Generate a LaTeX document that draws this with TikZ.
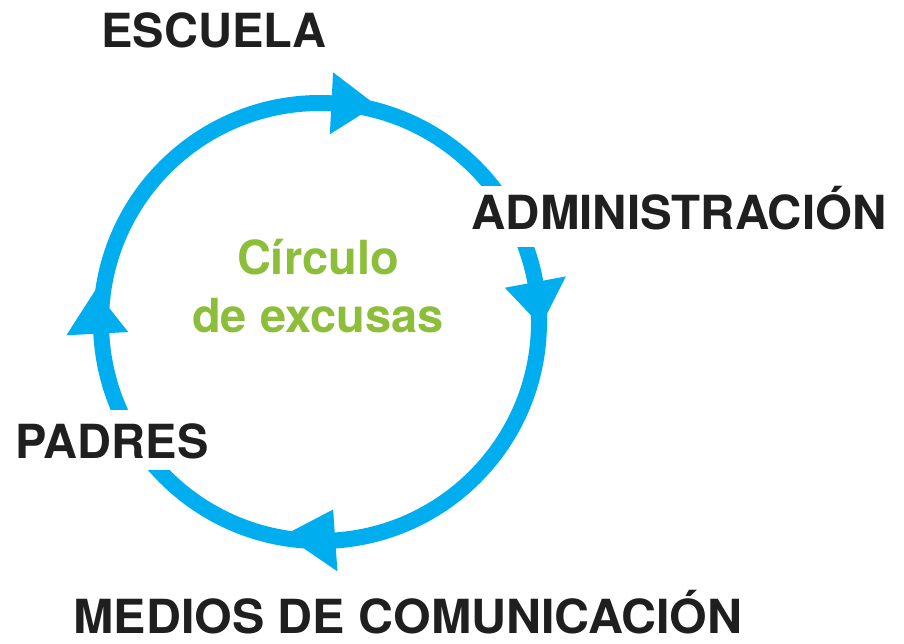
\documentclass[tikz,border=0pt]{standalone}
\usepackage{fontspec}
\setmainfont{TeX Gyre Heros}
\definecolor{ringblue}{RGB}{0,174,239}
\definecolor{excgreen}{RGB}{141,190,58}
\begin{document}
\begin{tikzpicture}[x=1pt,y=1pt,
  ring/.style={draw=ringblue,line width=16pt},
  tip/.style={fill=ringblue},
  lbl/.style={font=\fontsize{47}{56}\selectfont\bfseries,text=black!88,anchor=base,inner sep=0pt},
  gaplbl/.style={lbl,fill=white,inner xsep=2pt},
  inner/.style={font=\fontsize{47}{56}\selectfont\bfseries,text=excgreen,anchor=base,inner sep=0pt}]
\useasboundingbox (0,0) rectangle (904,643);
\coordinate (c) at (320,321);
\draw[ring] (c) circle (219);
% arrowheads (clockwise flow)
\fill[tip] ([shift={(c)}]87:188) -- ([shift={(c)}]87:250) -- ([shift={(c)}]75.5:224) -- cycle;
\fill[tip] ([shift={(c)}]10.5:188) -- ([shift={(c)}]10.5:250) -- ([shift={(c)}]-1:221) -- cycle;
\fill[tip] ([shift={(c)}]-86:188) -- ([shift={(c)}]-86:250) -- ([shift={(c)}]-99.5:216) -- cycle;
\fill[tip] ([shift={(c)}]183:192) -- ([shift={(c)}]183:254) -- ([shift={(c)}]172:227) -- cycle;
% labels
\node[lbl] (escuela) at (214,595) {ESCUELA};
\node[gaplbl,text height=44pt,text depth=17pt,xscale=1.01] (admin) at (679,413) {ADMINISTRACIÓN};
\node[gaplbl,text height=48pt,text depth=12pt] (padres) at (112,185) {PADRES};
\node[lbl,xscale=1.03] (medios) at (408,10) {MEDIOS DE COMUNICACIÓN};
\node[inner] (circulo) at (318,368) {Círculo};
\node[inner] (excusas) at (318,310) {de excusas};
\end{tikzpicture}
\end{document}
